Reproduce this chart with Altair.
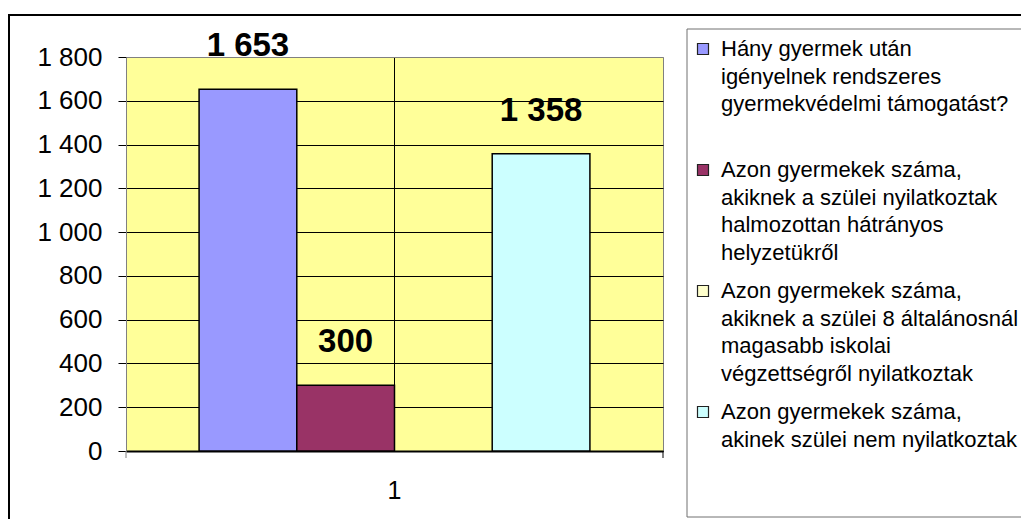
import altair as alt
import pandas as pd

# ---- data ----
categories = ["1"]
series = [
    "Hány gyermek után\nigényelnek rendszeres\ngyermekvédelmi támogatást?",
    "Azon gyermekek száma,\nakiknek a szülei nyilatkoztak\nhalmozottan hátrányos\nhelyzetükről",
    "Azon gyermekek száma,\nakiknek a szülei 8 általánosnál\nmagasabb iskolai\nvégzettségről nyilatkoztak",
    "Azon gyermekek száma,\nakinek szülei nem nyilatkoztak",
]
values = [1653, 300, None, 1358]
colors = ["#9999FF", "#993366", "#FFFFCC", "#CCFFFF"]
y_ticks = [0, 200, 400, 600, 800, 1000, 1200, 1400, 1600, 1800]

df = pd.DataFrame({"cat": categories * len(series), "series": series, "value": values})

FONT = "Liberation Sans"
W, H = 537, 394

base = alt.Chart(df).encode(
    x=alt.X(
        "cat:N",
        title=None,
        scale=alt.Scale(paddingOuter=0.187, paddingInner=0),
        axis=alt.Axis(
            labelAngle=0, ticks=False, grid=True, bandPosition=0.5,
            gridColor="black", gridWidth=1,
            domainColor="black", domainWidth=2,
            labelFontSize=25, labelPadding=27, labelColor="black",
        ),
    ),
    xOffset=alt.XOffset("series:N", sort=series,
                        scale=alt.Scale(domain=series, paddingInner=0, paddingOuter=0)),
    y=alt.Y(
        "value:Q",
        title=None,
        scale=alt.Scale(domain=[0, 1800], nice=False, zero=True),
        axis=alt.Axis(
            values=y_ticks,
            labelExpr="replace(format(datum.value, ','), ',', ' ')",
            labelFontSize=26, labelPadding=16, labelColor="black",
            tickSize=8, tickColor="black",
            domainColor="#808080", domainWidth=1,
            gridColor={"condition": {"test": "datum.value === 1800", "value": "#808080"}, "value": "black"},
            gridWidth=1,
        ),
    ),
)

bars = base.mark_bar(stroke="black", strokeWidth=1.5).encode(
    color=alt.Color(
        "series:N",
        sort=series,
        scale=alt.Scale(domain=series, range=colors),
        legend=alt.Legend(
            title=None, orient="none", legendX=566, legendY=-19,
            direction="vertical", columns=1,
            symbolType="square", symbolSize=121,
            symbolStrokeColor="#222222", symbolStrokeWidth=1.2, symbolOpacity=1,
            labelFontSize=22, labelColor="black", labelFont=FONT,
            labelLimit=2000, labelOffset=7, labelBaseline="middle",
            labelExpr="slice(split(datum.label + '\\n \\n \\n ', '\\n'), 0, 4)",
            rowPadding=16, padding=0,
        ),
    )
)

labels = base.transform_calculate(
    lbl="replace(format(datum.value, ','), ',', ' ')"
).mark_text(
    fontSize=33, fontWeight="bold", baseline="alphabetic", dy=-33, color="black", font=FONT
).encode(text="lbl:N")

one = alt.Data(values=[{"k": 1}])
outer_frame = alt.Chart(one).mark_rect(fill=None, stroke="black", strokeWidth=2).encode(
    x=alt.value(-117), x2=alt.value(1000), y=alt.value(-42), y2=alt.value(700)
)
legend_frame = alt.Chart(one).mark_rect(fill=None, stroke="#707070", strokeWidth=1).encode(
    x=alt.value(561), x2=alt.value(1000), y=alt.value(-28), y2=alt.value(460)
)
tick_l = alt.Chart(one).mark_rule(color="#808080", strokeWidth=1).encode(
    x=alt.value(0), y=alt.value(H), y2=alt.value(H + 7)
)
tick_r = alt.Chart(one).mark_rule(color="black", strokeWidth=1).encode(
    x=alt.value(W), y=alt.value(H), y2=alt.value(H + 7)
)

chart = alt.layer(outer_frame, legend_frame, bars, labels, tick_l, tick_r).properties(
    width=W, height=H,
    autosize=alt.AutoSizeParams(type="none"),
    padding={"left": 118, "top": 49, "right": 358, "bottom": 68},
    background="white",
).configure(
    font=FONT,
    style={"guide-label": {"lineHeight": 27.5}},
).configure_view(
    fill="#FFFF99", stroke="#808080", strokeWidth=1
)

chart.save("out.html", embed_options={"renderer": "svg", "actions": False})
